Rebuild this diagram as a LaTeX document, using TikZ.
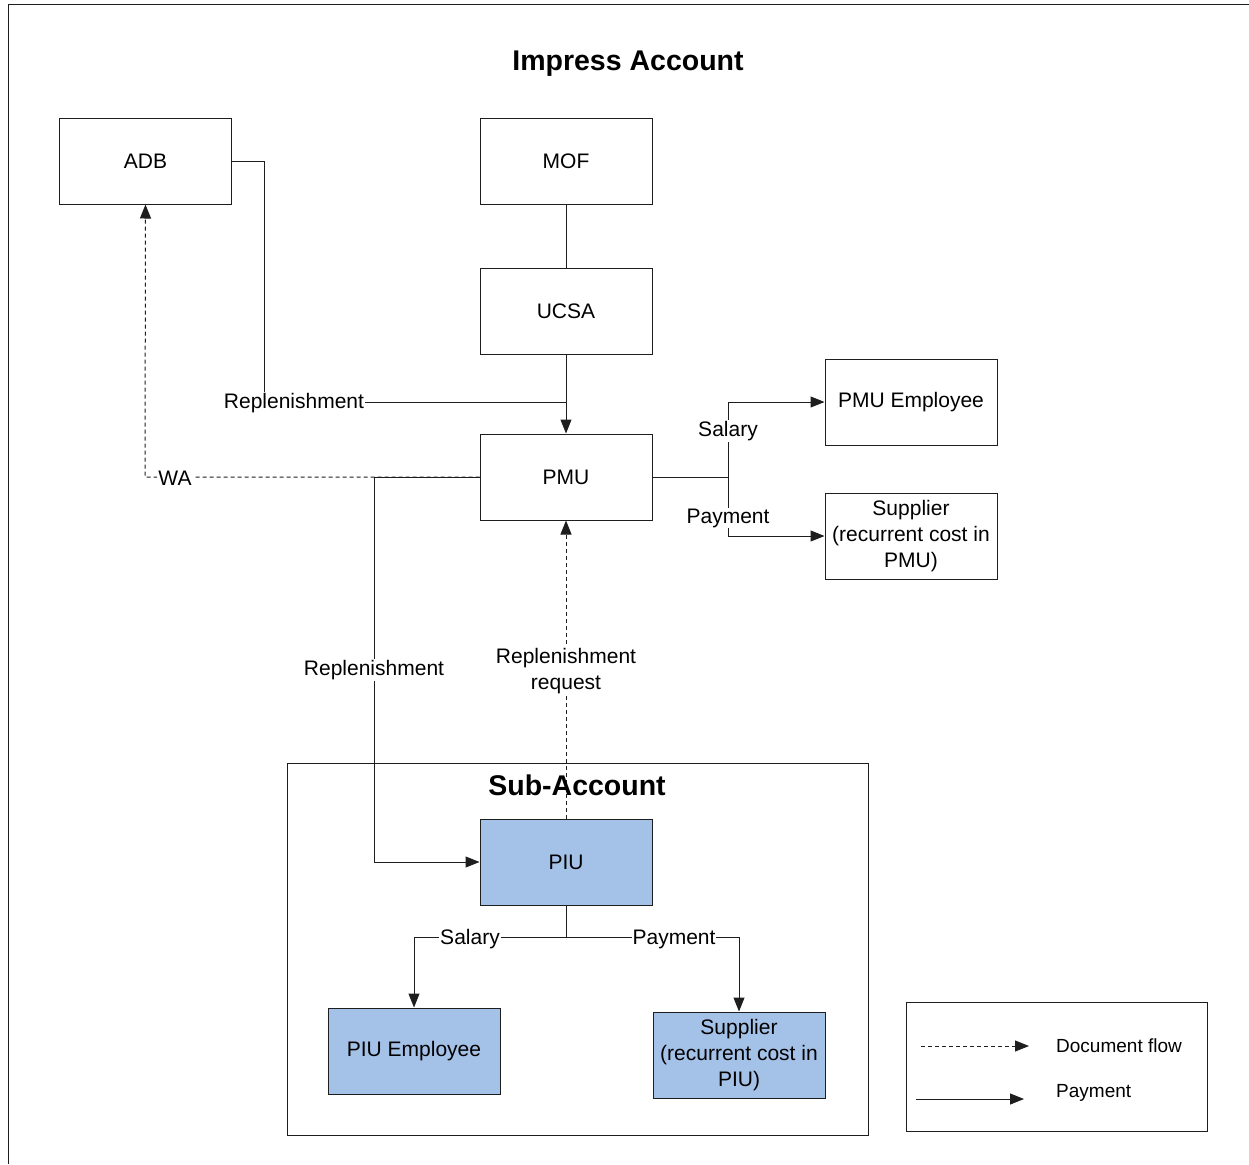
\documentclass[tikz,border=0pt]{standalone}
\usepackage{fontspec}
\setmainfont{Liberation Sans}
\usetikzlibrary{arrows.meta}
\definecolor{piublue}{RGB}{164,193,232}
\definecolor{ln}{RGB}{30,30,30}
\tikzset{
  box/.style={draw=ln, line width=1pt, minimum width=172pt, minimum height=86pt, inner sep=0pt, align=center, font=\fontsize{21}{26}\selectfont},
  bluebox/.style={box, fill=piublue},
  conn/.style={draw=ln, line width=1pt},
  tip/.style={-{Triangle[length=14pt,width=11pt]}},
  dsh/.style={dash pattern=on 4pt off 3pt},
  lbl/.style={fill=white, inner sep=1pt, font=\fontsize{21}{26}\selectfont, align=center},
}
\begin{document}
\begin{tikzpicture}[x=1pt,y=-1pt]
\useasboundingbox (0,0) rectangle (1249,1164);
\fill[white] (0,0) rectangle (1249,1164);
% outer frame (cropped)
\draw[conn] (8,1164) -- (8,5) -- (1249,5);
% titles
\node (title) at (628,64) {\fontsize{28.5}{34}\selectfont\bfseries Impress Account};
% sub-account frame
\node[draw=ln, line width=1pt, minimum width=581pt, minimum height=372pt, inner sep=0pt] (subframe) at (577.5,949) {};
% boxes
\node[box] (adb) at (145.5,161) {ADB};
\node[box] (mof) at (566,161) {MOF};
\node[box] (ucsa) at (566,311) {UCSA};
\node[box] (pmu) at (566,477) {PMU};
\node[box] (pmuemp) at (911,402) {PMU Employee};
\node[box] (pmusup) at (911,536) {Supplier\\(recurrent cost in\\PMU)};
\node[bluebox] (piu) at (566,862) {PIU};
\node[bluebox] (piuemp) at (414,1051) {PIU Employee};
\node[bluebox] (piusup) at (739,1055) {Supplier\\(recurrent cost in\\PIU)};
% coordinates
\coordinate (adbc) at (264,161);
\coordinate (adbd) at (264,402);
\coordinate (jr) at (566,402);
\coordinate (wa1) at (145,477);
\coordinate (rp1) at (374,477);
\coordinate (rp2) at (374,862);
\coordinate (pj) at (728,477);
\coordinate (pj1) at (728,402);
\coordinate (pj2) at (728,536);
\coordinate (qj) at (566,937);
\coordinate (qj1) at (414,937);
\coordinate (qj2) at (739,937);
% connectors
\draw[conn] (mof) -- (ucsa);
\draw[conn,tip] (ucsa) -- (pmu);
\draw[conn] (adb.east) -- (adbc) -- (adbd) -- (jr);
\node[lbl] (lrep) at (294,403) {Replenishment};
\draw[conn,dsh,tip] (pmu.west) -- (wa1) -- (adb.south);
\node[lbl] (lwa) at (175,478) {WA};
\draw[conn,tip] (pmu.west) -- (rp1) -- (rp2) -- (piu.west);
\node[lbl] (lrep2) at (374,670) {Replenishment};
\draw[conn,dsh,tip] (piu.north) -- (pmu.south);
\node[lbl] (lreq) at (566,671) {Replenishment\\request};
\node (subtitle) at (577,785) {\fontsize{28.5}{34}\selectfont\bfseries Sub-Account};
\draw[conn] (pmu.east) -- (pj);
\draw[conn,tip] (pj) -- (pj1) -- (pmuemp.west);
\draw[conn,tip] (pj) -- (pj2) -- (pmusup.west);
\node[lbl] (lsal) at (728,431) {Salary};
\node[lbl] (lpay) at (728,518) {Payment};
\draw[conn] (piu.south) -- (qj);
\draw[conn,tip] (qj) -- (qj1) -- (piuemp.north);
\draw[conn,tip] (qj) -- (qj2) -- (piusup.north);
\node[lbl] (lsal2) at (470,939) {Salary};
\node[lbl] (lpay2) at (674,939) {Payment};
% legend
\node[draw=ln, line width=1pt, minimum width=301pt, minimum height=129pt, inner sep=0pt] (legend) at (1056.5,1066.5) {};
\coordinate (l1a) at (921,1046);
\coordinate (l1b) at (1029,1046);
\coordinate (l2a) at (916,1099);
\coordinate (l2b) at (1024,1099);
\draw[conn,dsh,tip] (l1a) -- (l1b);
\draw[conn,tip] (l2a) -- (l2b);
\node[anchor=west, inner sep=0pt, font=\fontsize{19}{23}\selectfont] (ldoc) at (1056,1046) {Document flow};
\node[anchor=west, inner sep=0pt, font=\fontsize{19}{23}\selectfont] (lpayl) at (1056,1093) {Payment};
\end{tikzpicture}
\end{document}
